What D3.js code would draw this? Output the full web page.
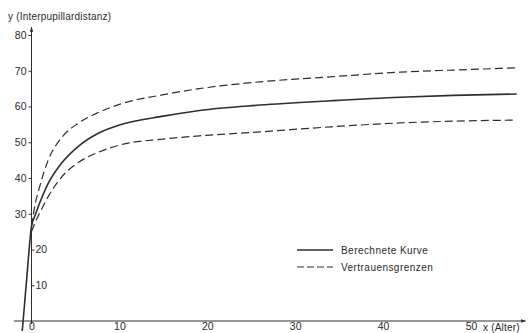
<!DOCTYPE html>
<html>
<head>
<meta charset="utf-8">
<script src="https://cdn.jsdelivr.net/npm/d3@7"></script>
<style>
  html, body { margin: 0; padding: 0; background: #fff; }
  svg { display: block; }
  text { font-family: "Liberation Sans", Arial, sans-serif; fill: #2a2a2a; }
</style>
</head>
<body>
<svg id="chart" width="531" height="333"></svg>
<script>
// Interpupillary distance vs. age: fitted curve with confidence limits
const ages        = [-1.05, -0.5, 0, 0.36, 0.93, 1.9, 3.4, 5.3, 7.6, 10, 15, 19.1, 26, 34, 41.9, 48, 55.2];
const curveValues = [-2.8, 13.2, 26.5, 29.2, 33, 38.5, 44.1, 48.8, 52.5, 54.8, 57.3, 58.9, 60.4, 61.6, 62.6, 63.1, 63.5];

const upperAges   = [0, 0.36, 0.93, 1.9, 3.4, 5.3, 7.6, 10, 15, 19.1, 26, 34, 41.9, 48, 55.2];
const upperValues = [26.5, 32, 37.6, 45, 51.2, 55.3, 58.3, 60.6, 63.3, 65.0, 66.9, 68.3, 69.6, 70.2, 70.8];

const lowerAges   = [0, 0.55, 0.93, 1.9, 3.4, 5.3, 7.6, 10, 15, 19.1, 26, 34, 41.9, 48, 55.2];
const lowerValues = [25, 28.3, 30.2, 34.8, 40.2, 44.3, 47.2, 49.2, 50.9, 51.8, 52.9, 54.3, 55.4, 55.9, 56.2];

const xTicks = [0, 10, 20, 30, 40, 50];
const yTicksLeft = [30, 40, 50, 60, 70, 80];
const yTicksRight = [10, 20];

const legendLabels = ["Berechnete Kurve", "Vertrauensgrenzen"];
const yTitle = "y (Interpupillardistanz)";
const xTitle = "x (Alter)";

const ink = "#2e2e2e";
const svg = d3.select("#chart");

const x = d3.scaleLinear().domain([0, 50]).range([31.5, 471]);
const y = d3.scaleLinear().domain([0, 80]).range([321, 35]);

// arrowheads
const defs = svg.append("defs");
defs.append("marker")
  .attr("id", "arrow")
  .attr("viewBox", "0 0 10 10")
  .attr("refX", 9).attr("refY", 5)
  .attr("markerWidth", 6).attr("markerHeight", 5)
  .attr("orient", "auto")
  .append("path").attr("d", "M0,1.5 L10,5 L0,8.5 Z").attr("fill", ink);

// axis lines
svg.append("line")
  .attr("x1", x(-2)).attr("x2", x(56.2))
  .attr("y1", y(0)).attr("y2", y(0))
  .attr("stroke", ink).attr("stroke-width", 1)
  .attr("marker-end", "url(#arrow)");
svg.append("line")
  .attr("x1", x(0)).attr("x2", x(0))
  .attr("y1", y(-0.8)).attr("y2", y(82.2))
  .attr("stroke", ink).attr("stroke-width", 1)
  .attr("marker-end", "url(#arrow)");

// y ticks to the left of the axis
const yLeft = svg.append("g")
  .attr("transform", `translate(${x(0)},0)`)
  .call(d3.axisLeft(y).tickValues(yTicksLeft).tickSize(3).tickPadding(2));
// small values are labelled on the right side, clear of the steep branch
const yRight = svg.append("g")
  .attr("transform", `translate(${x(0)},0)`)
  .call(d3.axisRight(y).tickValues(yTicksRight).tickSize(3).tickPadding(1));
const xAxis = svg.append("g")
  .attr("transform", `translate(0,${y(0)})`)
  .call(d3.axisBottom(x).tickValues(xTicks).tickSize(0).tickPadding(2));

[yLeft, yRight, xAxis].forEach(g => {
  g.select(".domain").remove();
  g.selectAll(".tick line").attr("stroke", ink);
  g.selectAll("text")
    .attr("font-family", "'Liberation Sans', Arial, sans-serif")
    .attr("font-size", 10.5)
    .attr("fill", ink);
});

// axis titles
svg.append("text")
  .attr("x", 8).attr("y", 20)
  .attr("font-size", 10).attr("letter-spacing", 0.2)
  .text(yTitle);
svg.append("text")
  .attr("x", x(50) + 12).attr("y", y(0) + 10)
  .attr("font-size", 10).attr("letter-spacing", 0.2)
  .text(xTitle);

// curves
const line = d3.line()
  .x(d => x(d[0]))
  .y(d => y(d[1]))
  .curve(d3.curveMonotoneX);

const fitted = d3.zip(ages, curveValues);
const upper = d3.zip(upperAges, upperValues);
const lower = d3.zip(lowerAges, lowerValues);

svg.append("path").datum(fitted)
  .attr("d", line).attr("fill", "none")
  .attr("stroke", ink).attr("stroke-width", 1.6);

[upper, lower].forEach(data => {
  svg.append("path").datum(data)
    .attr("d", line).attr("fill", "none")
    .attr("stroke", ink).attr("stroke-width", 1.2)
    .attr("stroke-dasharray", "8,4");
});

// legend
const legend = svg.append("g").attr("transform", "translate(297,250)");
const styles = [{ w: 1.6, dash: null }, { w: 1.2, dash: "7,3" }];
legendLabels.forEach((label, i) => {
  const row = legend.append("g").attr("transform", `translate(0,${i * 17})`);
  row.append("line")
    .attr("x1", 0).attr("x2", 36).attr("y1", 0).attr("y2", 0)
    .attr("stroke", ink).attr("stroke-width", styles[i].w)
    .attr("stroke-dasharray", styles[i].dash);
  row.append("text")
    .attr("x", 44).attr("y", 3.5)
    .attr("font-size", 10).attr("letter-spacing", 0.45)
    .text(label);
});
</script>
</body>
</html>
